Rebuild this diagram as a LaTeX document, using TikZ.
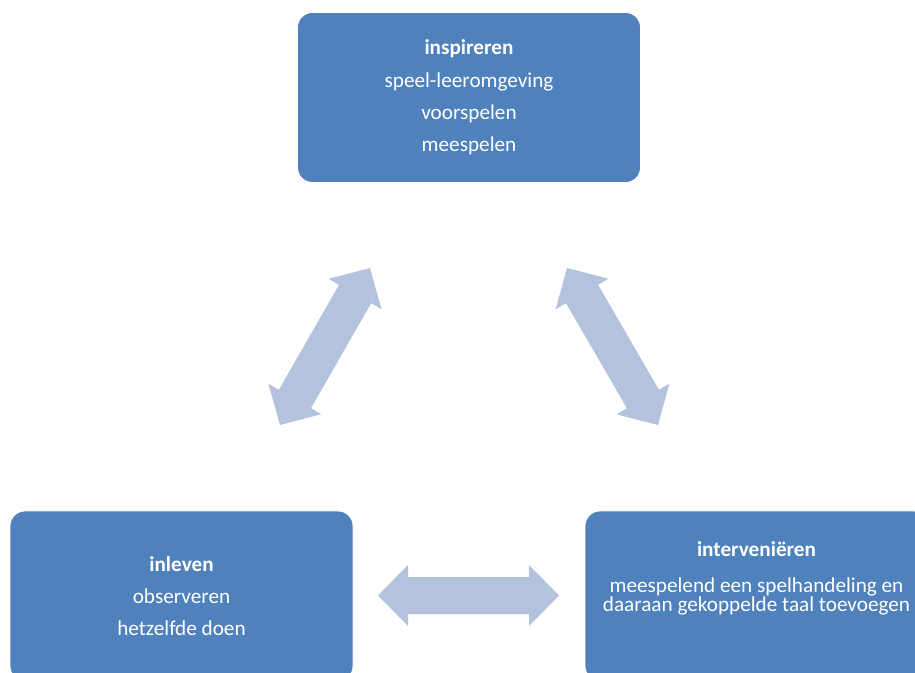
\documentclass[tikz,border=0pt]{standalone}
\usepackage{fontspec}
\setmainfont{Carlito}
\usetikzlibrary{calc}
\definecolor{boxblue}{HTML}{4F81BD}
\definecolor{arrowblue}{HTML}{B3C3DD}
\tikzset{
  phase/.style={rectangle, rounded corners=15pt, fill=boxblue, draw=white, line width=0.8pt,
    minimum width=343pt, minimum height=170pt, inner sep=0pt, text=white, align=center,
    font=\fontsize{21.2}{32.3}\selectfont},
  linkfill/.style={fill=arrowblue}
}
% block double arrow between two named coordinates (head 30pt long, 61pt wide, shaft 37pt)
\def\linkarrow(#1)(#2){\fill[linkfill] (#1)
	-- ($(#1)!30pt!(#2)!30.5pt!90:(#2)$) -- ($(#1)!30pt!(#2)!18.5pt!90:(#2)$)
	-- ($(#2)!30pt!(#1)!18.5pt!-90:(#1)$) -- ($(#2)!30pt!(#1)!30.5pt!-90:(#1)$)
	-- (#2)
	-- ($(#2)!30pt!(#1)!30.5pt!90:(#1)$) -- ($(#2)!30pt!(#1)!18.5pt!90:(#1)$)
	-- ($(#1)!30pt!(#2)!18.5pt!-90:(#2)$) -- ($(#1)!30pt!(#2)!30.5pt!-90:(#2)$) -- cycle;}

\begin{document}
\begin{tikzpicture}[x=1pt, y=1pt]
			%%%%% START %%%%%
			\useasboundingbox (0, 0) rectangle (915, 672);
			
			\node[phase] (inspireren) at (469, 574.5) {\textbf{inspireren}\\speel-leeromgeving\\voorspelen\\meespelen};
			\node[phase] (inleven) at (181.5, 76) {\textbf{inleven}\\observeren\\hetzelfde doen};
			\node[phase, font=\fontsize{21.2}{19.5}\selectfont] (interveni) at (756.5, 76)
				{\textbf{interveniëren}\\[16.5pt]meespelend een spelhandeling en\\daaraan gekoppelde taal toevoegen\\[19.7pt]\mbox{}};
			
			\coordinate (lefttop) at (370, 404);
			\coordinate (leftbot) at (280, 247);
			\coordinate (righttop) at (567, 404);
			\coordinate (rightbot) at (658, 247);
			\coordinate (botleft) at (378, 76.5);
			\coordinate (botright) at (559, 76.5);
			
			\linkarrow(leftbot)(lefttop)
			\linkarrow(righttop)(rightbot)
			\linkarrow(botleft)(botright)
			
			%%%%% END %%%%%
\end{tikzpicture}
\end{document}
